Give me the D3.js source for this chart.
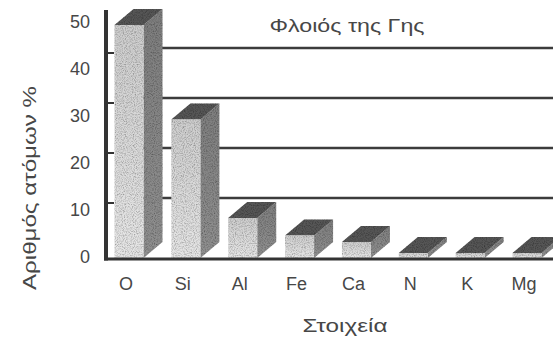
<!DOCTYPE html>
<html>
<head>
<meta charset="utf-8">
<script src="https://cdn.jsdelivr.net/npm/d3@7"></script>
<style>
  html, body { margin: 0; padding: 0; background: #fff; }
  svg { display: block; }
  text { font-family: "Liberation Sans", Arial, Helvetica, sans-serif; fill: #474747; }
</style>
</head>
<body>
<svg id="chart" width="553" height="340"></svg>
<script>
// Element abundance in the Earth's crust
const elements = ["O", "Si", "Al", "Fe", "Ca", "N", "K", "Mg"];
const percent  = [46.6, 27.7, 8.0, 4.5, 3.2, 1.0, 1.0, 1.0];
const yTicks   = [0, 10, 20, 30, 40, 50];
const gridValues = [10, 20, 30, 40, 50];

const chartTitle = "Φλοιός της Γης";
const yTitle = "Αριθμός ατόμων %";
const xTitle = "Στοιχεία";

const svg = d3.select("#chart");
const W = 553, H = 340;

// 3D geometry: bars are extruded back by (depthX, depthY)
const depthX = 19, depthY = -16;
const wallShift = -10;          // back-wall gridlines sit a little higher
const axisX = 106;
const floorY = 258;
const barW = 29;

const y = d3.scaleLinear().domain([0, 50]).range([floorY, floorY - 250]);
// tick labels follow the foreshortened front edge
const yLabel = d3.scaleLinear().domain([0, 50]).range([257, 22]);
const x = d3.scalePoint().domain(elements).range([129, 527]);

// gradients and grain for the bar faces
const defs = svg.append("defs");
const gFront = defs.append("linearGradient").attr("id", "front").attr("x1", 0).attr("y1", 0).attr("x2", 0).attr("y2", 1);
gFront.append("stop").attr("offset", "0%").attr("stop-color", "#cdcdcd");
gFront.append("stop").attr("offset", "100%").attr("stop-color", "#e6e6e6");
const gSide = defs.append("linearGradient").attr("id", "side").attr("x1", 0).attr("y1", 0).attr("x2", 0).attr("y2", 1);
gSide.append("stop").attr("offset", "0%").attr("stop-color", "#7e7e7e");
gSide.append("stop").attr("offset", "100%").attr("stop-color", "#909090");

const grain = defs.append("filter").attr("id", "grain").attr("x", 0).attr("y", 0).attr("width", 1).attr("height", 1);
grain.append("feTurbulence").attr("type", "fractalNoise").attr("baseFrequency", 0.9).attr("numOctaves", 2).attr("seed", 3).attr("result", "noise");
grain.append("feColorMatrix").attr("in", "noise").attr("type", "matrix")
  .attr("values", "0 0 0 0 0  0 0 0 0 0  0 0 0 0 0  0 0 0 -1.2 0.72").attr("result", "dots");
grain.append("feComposite").attr("in", "dots").attr("in2", "SourceGraphic").attr("operator", "in").attr("result", "mask");
grain.append("feMerge").selectAll("feMergeNode").data(["SourceGraphic", "mask"]).join("feMergeNode").attr("in", d => d);

// back-wall gridlines
svg.append("g").selectAll("line").data(gridValues).join("line")
  .attr("x1", axisX + depthX - 2).attr("x2", W)
  .attr("y1", d => y(d) + wallShift).attr("y2", d => y(d) + wallShift)
  .attr("stroke", "#3c3c3c").attr("stroke-width", 2.6);

// bars
const bars = svg.append("g").selectAll("g").data(elements.map((e, i) => ({ e, v: percent[i] }))).join("g");
const x0 = d => x(d.e) - barW / 2;

bars.append("path").attr("fill", "url(#side)").attr("filter", "url(#grain)")
  .attr("d", d => {
    const l = x0(d) + barW, t = y(d.v), b = y(0);
    return `M${l},${t}L${l + depthX},${t + depthY}L${l + depthX},${b + depthY}L${l},${b}Z`;
  });
bars.append("path").attr("fill", "#575757").attr("filter", "url(#grain)")
  .attr("d", d => {
    const l = x0(d), t = y(d.v);
    return `M${l},${t}L${l + barW},${t}L${l + barW + depthX},${t + depthY}L${l + depthX},${t + depthY}Z`;
  });
bars.append("rect").attr("fill", "url(#front)").attr("filter", "url(#grain)")
  .attr("x", x0).attr("width", barW)
  .attr("y", d => y(d.v)).attr("height", d => y(0) - y(d.v));

// floor edge and value axis
svg.append("line").attr("x1", axisX - 2).attr("x2", W).attr("y1", floorY + 1).attr("y2", floorY + 1)
  .attr("stroke", "#333").attr("stroke-width", 3.2);
svg.append("line").attr("x1", axisX).attr("x2", axisX).attr("y1", 10).attr("y2", floorY + 2.5)
  .attr("stroke", "#333").attr("stroke-width", 4);
svg.append("g").selectAll("line").data([10, 20, 30, 40]).join("line")
  .attr("x1", axisX).attr("x2", axisX + 8)
  .attr("y1", d => y(d) - 5).attr("y2", d => y(d) - 5)
  .attr("stroke", "#333").attr("stroke-width", 2);

// tick labels
svg.append("g").selectAll("text").data(yTicks).join("text")
  .attr("x", 90).attr("y", d => yLabel(d))
  .attr("text-anchor", "end").attr("dominant-baseline", "central")
  .attr("font-size", 18).text(d => d);

// category labels
svg.append("g").selectAll("text").data(elements).join("text")
  .attr("x", d => x(d) - 3).attr("y", 284)
  .attr("text-anchor", "middle").attr("dominant-baseline", "central")
  .attr("font-size", 18).text(d => d);

// titles
svg.append("text").attr("x", 347).attr("y", 26)
  .attr("text-anchor", "middle").attr("dominant-baseline", "central")
  .attr("font-size", 18).attr("textLength", 155).attr("lengthAdjust", "spacingAndGlyphs")
  .text(chartTitle);
svg.append("text").attr("transform", "translate(30,188) rotate(-90)")
  .attr("text-anchor", "middle").attr("dominant-baseline", "central")
  .attr("font-size", 18).attr("textLength", 204).attr("lengthAdjust", "spacingAndGlyphs")
  .text(yTitle);
svg.append("text").attr("x", 345).attr("y", 326)
  .attr("text-anchor", "middle").attr("dominant-baseline", "central")
  .attr("font-size", 18).attr("textLength", 85).attr("lengthAdjust", "spacingAndGlyphs")
  .text(xTitle);
</script>
</body>
</html>
